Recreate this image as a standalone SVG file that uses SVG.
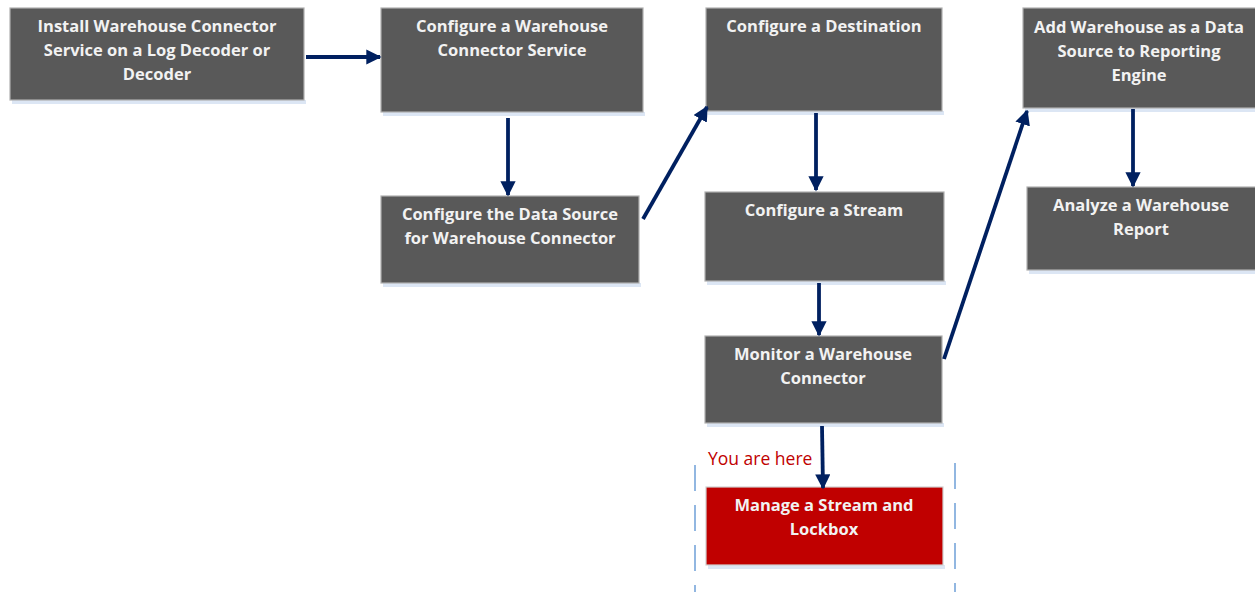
<svg xmlns="http://www.w3.org/2000/svg" width="1255" height="593" viewBox="0 0 1255 593">
<style>
.box{fill:#595959;stroke:#b0b0b0;stroke-width:1.2}
.red{fill:#c00000;stroke:#d0d0d0;stroke-width:1.2}
.sh{fill:#dce6f4}
.t{font-family:"Open Sans","Liberation Sans",sans-serif;font-weight:bold;font-size:16.5px;fill:#f2f2f2;text-anchor:middle}
.c{stroke:#002060;stroke-width:3.8;fill:none;marker-end:url(#ah)}
.dash{stroke:#6fa0d8;stroke-width:1.5;stroke-dasharray:26 14;fill:none}
.here{font-family:"Open Sans","Liberation Sans",sans-serif;font-size:17.5px;fill:#c00000}
</style>
<defs>
<marker id="ah" viewBox="0 0 10 10" refX="9" refY="5" markerWidth="4" markerHeight="4" orient="auto" markerUnits="strokeWidth">
<path d="M0,0 L10,5 L0,10 z" fill="#002060"/>
</marker>
</defs>
<rect width="1255" height="593" fill="#ffffff"/>
<g id="dashes">
<line class="dash" x1="695" y1="465" x2="695" y2="592"/>
<line class="dash" x1="955" y1="463" x2="955" y2="592"/>
</g>
<g id="n1"><rect class="sh" x="12" y="100" width="294" height="4"/><rect class="box" x="10" y="8" width="294" height="92"/>
<text class="t" x="157" y="32">Install Warehouse Connector</text><text class="t" x="157" y="56">Service on a Log Decoder or</text><text class="t" x="157" y="80">Decoder</text></g>
<g id="n2"><rect class="sh" x="383" y="112" width="262" height="4"/><rect class="box" x="381" y="8" width="262" height="104"/>
<text class="t" x="512" y="32">Configure a Warehouse</text><text class="t" x="512" y="56">Connector Service</text></g>
<g id="n3"><rect class="sh" x="383" y="283" width="258" height="4"/><rect class="box" x="381" y="196" width="258" height="87"/>
<text class="t" x="510" y="220">Configure the Data Source</text><text class="t" x="510" y="244">for Warehouse Connector</text></g>
<g id="n4"><rect class="sh" x="708" y="111" width="236" height="4"/><rect class="box" x="706" y="8" width="236" height="103"/>
<text class="t" x="824" y="32">Configure a Destination</text></g>
<g id="n5"><rect class="sh" x="707" y="281" width="239" height="4"/><rect class="box" x="705" y="192" width="239" height="89"/>
<text class="t" x="824" y="216">Configure a Stream</text></g>
<g id="n6"><rect class="sh" x="707" y="423" width="237" height="4"/><rect class="box" x="705" y="336" width="237" height="87"/>
<text class="t" x="823" y="360">Monitor a Warehouse</text><text class="t" x="823" y="384">Connector</text></g>
<g id="n7"><rect class="sh" x="708" y="565" width="237" height="4"/><rect class="red" x="706" y="487" width="237" height="78"/>
<text class="t" x="824" y="511">Manage a Stream and</text><text class="t" x="824" y="535">Lockbox</text></g>
<g id="n8"><rect class="sh" x="1025" y="108" width="232" height="4"/><rect class="box" x="1023" y="8" width="234" height="100"/>
<text class="t" x="1139" y="33">Add Warehouse as a Data</text><text class="t" x="1139" y="57">Source to Reporting</text><text class="t" x="1139" y="81">Engine</text></g>
<g id="n9"><rect class="sh" x="1029" y="270" width="228" height="4"/><rect class="box" x="1027" y="187" width="230" height="83"/>
<text class="t" x="1141" y="211">Analyze a Warehouse</text><text class="t" x="1141" y="235">Report</text></g>
<text class="here" x="708" y="465">You are here</text>
<g id="connectors">
<line class="c" x1="306" y1="57" x2="380" y2="57"/>
<line class="c" x1="508" y1="118" x2="508" y2="195"/>
<line class="c" x1="643" y1="219" x2="707" y2="107"/>
<line class="c" x1="816" y1="113" x2="816" y2="190"/>
<line class="c" x1="819" y1="283" x2="819" y2="335"/>
<line class="c" x1="822" y1="426" x2="823" y2="488"/>
<line class="c" x1="944" y1="359" x2="1027" y2="111"/>
<line class="c" x1="1133" y1="109" x2="1133" y2="186"/>
</g>
</svg>
